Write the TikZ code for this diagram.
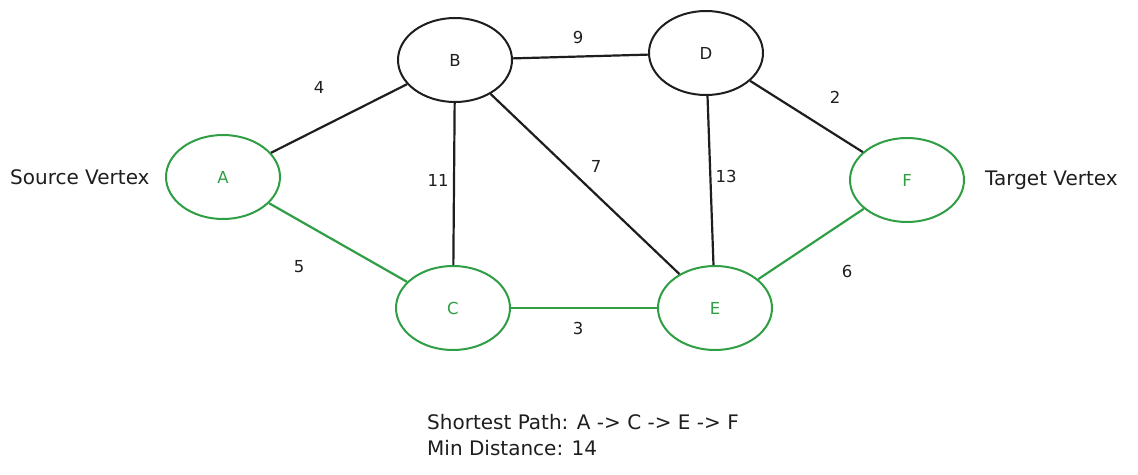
\documentclass[tikz,border=0pt]{standalone}
\usepackage{fontspec}
\setmainfont{DejaVu Sans}
\usetikzlibrary{shapes.geometric}
\definecolor{pathgreen}{HTML}{2F9E44}
\definecolor{inkblack}{HTML}{1E1E1E}
\begin{document}
\begin{tikzpicture}[x=1pt,y=-1pt,
  vertex/.style={ellipse,draw=inkblack,line width=2pt,minimum width=114pt,minimum height=84pt,inner sep=0pt,text=inkblack,font=\fontsize{16.5}{18}\selectfont},
  goal/.style={vertex,draw=pathgreen,text=pathgreen},
  edge/.style={draw=inkblack,line width=2.2pt},
  gedge/.style={draw=pathgreen,line width=2.2pt},
  wlabel/.style={text=inkblack,font=\fontsize{16.5}{18}\selectfont,inner sep=0pt},
  note/.style={text=inkblack,font=\fontsize{20}{26}\selectfont,inner sep=0pt}]
\useasboundingbox[fill=white] (0,0) rectangle (1138,474);
\node[goal] (A) at (223,177) {A};
\node[vertex] (B) at (455,60) {B};
\node[vertex] (D) at (706,53) {D};
\node[goal] (F) at (907,180) {F};
\node[goal] (C) at (453,308) {C};
\node[goal] (E) at (715,308) {E};
\draw[edge] (A) -- (B);
\draw[edge] (B) -- (D);
\draw[edge] (D) -- (F);
\draw[edge] (B) -- (C);
\draw[edge] (B) -- (E);
\draw[edge] (D) -- (E);
\draw[gedge] (A) -- (C);
\draw[gedge] (C) -- (E);
\draw[gedge] (E) -- (F);
\node[wlabel] (w4) at (319,87) {4};
\node[wlabel] (w9) at (578,37) {9};
\node[wlabel] (w2) at (835,97) {2};
\node[wlabel] (w11) at (438,180) {11};
\node[wlabel] (w7) at (596,166) {7};
\node[wlabel] (w13) at (726,176) {13};
\node[wlabel] (w5) at (299,267) {5};
\node[wlabel] (w3) at (578,328) {3};
\node[wlabel] (w6) at (847,271) {6};
\node[note,anchor=west] (src) at (10,177) {Source Vertex};
\node[note,anchor=west] (tgt) at (985,180) {Target Vertex};
\node[note,anchor=north west,align=left] (res) at (427,414) {Shortest Path: A -> C -> E -> F\\Min Distance: 14};
\end{tikzpicture}
\end{document}
